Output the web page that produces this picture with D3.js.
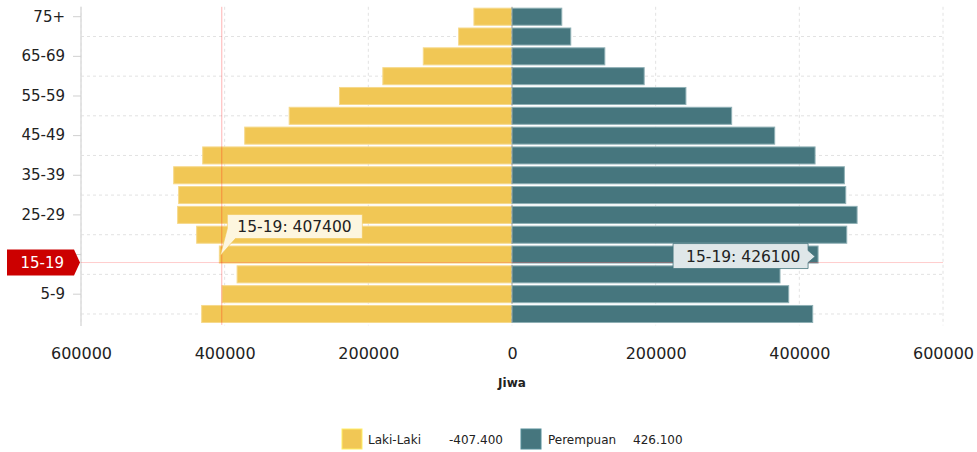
<!DOCTYPE html>
<html>
<head>
<meta charset="utf-8">
<script src="https://cdn.jsdelivr.net/npm/d3@7"></script>
<style>
  html, body { margin: 0; padding: 0; background: #fff; }
  svg { display: block; font-family: "DejaVu Sans", Verdana, sans-serif; }
</style>
</head>
<body>
<svg id="chart" width="977" height="452"></svg>
<script>
// ---- data ----
const categories = ["0-4","5-9","10-14","15-19","20-24","25-29","30-34","35-39","40-44","45-49","50-54","55-59","60-64","65-69","70-74","75+"];
const laki = [432000, 403600, 382700, 407400, 439000, 465500, 464100, 471000, 430600, 372100, 310200, 240100, 179800, 123500, 74300, 53000];
const perempuan = [418600, 385200, 373100, 426100, 466000, 480400, 464600, 462700, 421900, 365700, 305800, 242100, 184000, 129200, 81800, 69300];
const xTicks = [-600000, -400000, -200000, 0, 200000, 400000, 600000];
const seriesNames = ["Laki-Laki", "Perempuan"];
const legendValues = ["-407.400", "426.100"];
const xTitle = "Jiwa";
const hoverCategory = "15-19";
const cursorValue = -404000;

const colors = { laki: "#f1c755", perempuan: "#46767e" };

const svg = d3.select("#chart");
const W = 977, H = 452;
const plot = { left: 81, right: 943, top: 6.8, bottom: 323.9 };

const x = d3.scaleLinear().domain([-600000, 600000]).range([plot.left, plot.right]);
const y = d3.scaleBand().domain(categories.slice().reverse()).range([plot.top, plot.bottom]).paddingInner(0.14).paddingOuter(0.07);

const labeled = categories.filter((c, i) => i % 2 === 1);
const unlabeled = categories.filter((c, i) => i % 2 === 0);
const yc = c => y(c) + y.bandwidth() / 2;

// grid
const grid = svg.append("g");
grid.selectAll("line.v").data(xTicks).join("line")
  .attr("x1", d => x(d)).attr("x2", d => x(d))
  .attr("y1", plot.top).attr("y2", plot.bottom + 1.5)
  .attr("stroke", "#e2e2e2").attr("stroke-dasharray", "3,3");
grid.selectAll("line.h").data(unlabeled).join("line")
  .attr("x1", plot.left).attr("x2", plot.right)
  .attr("y1", d => yc(d)).attr("y2", d => yc(d))
  .attr("stroke", "#e2e2e2").attr("stroke-dasharray", "3,3");

// bars
const rows = categories.map((c, i) => ({ c, m: laki[i], f: perempuan[i] }));
const bars = svg.append("g");
bars.selectAll("rect.m").data(rows).join("rect")
  .attr("x", d => x(-d.m)).attr("width", d => x(0) - x(-d.m))
  .attr("y", d => y(d.c)).attr("height", y.bandwidth())
  .attr("fill", colors.laki).attr("stroke", "#f6d98c").attr("stroke-width", 1);
bars.selectAll("rect.f").data(rows).join("rect")
  .attr("x", x(0)).attr("width", d => x(d.f) - x(0))
  .attr("y", d => y(d.c)).attr("height", y.bandwidth())
  .attr("fill", colors.perempuan).attr("stroke", "#8fb0b5").attr("stroke-width", 1);

// zero line dashed on top
svg.append("line").attr("x1", x(0)).attr("x2", x(0))
  .attr("y1", plot.top).attr("y2", plot.bottom)
  .attr("stroke", "#8a8a8a").attr("stroke-opacity", 0.6).attr("stroke-dasharray", "3,3");

// y axis
const yAxis = d3.axisLeft(y).tickValues(labeled.filter(c => c !== hoverCategory)).tickSize(8).tickPadding(8);
const ya = svg.append("g").attr("transform", `translate(${plot.left},0)`).call(yAxis);
ya.select(".domain").attr("stroke", "#dcdcdc").attr("stroke-width", 1.5)
  .attr("d", `M0,${plot.top}V${plot.bottom + 2}`);
ya.selectAll(".tick line").attr("stroke", "#d0d0d0");
ya.selectAll(".tick text").attr("font-size", 15).attr("fill", "#222").attr("font-family", "DejaVu Sans, Verdana, sans-serif");
// tick for hovered category too
ya.append("line").attr("x1", -8).attr("x2", 0).attr("y1", yc(hoverCategory)).attr("y2", yc(hoverCategory)).attr("stroke", "#d0d0d0");

// x axis
const xAxis = d3.axisBottom(x).tickValues(xTicks).tickSize(0).tickPadding(0).tickFormat(d => String(Math.abs(d)));
const xa = svg.append("g").attr("transform", `translate(0,${plot.bottom})`).call(xAxis);
xa.select(".domain").remove();
xa.selectAll(".tick text").attr("font-size", 16).attr("fill", "#222").attr("dy", null).attr("y", 35)
  .attr("font-family", "DejaVu Sans, Verdana, sans-serif");

svg.append("text").attr("x", x(0)).attr("y", 387).attr("text-anchor", "middle")
  .attr("font-size", 12).attr("font-weight", "bold").attr("fill", "#222").text(xTitle);

// crosshair
const cy = yc(hoverCategory) + 8;
const cx = x(cursorValue);
svg.append("line").attr("x1", cx).attr("x2", cx).attr("y1", plot.top).attr("y2", plot.bottom + 1)
  .attr("stroke", "#ff0000").attr("stroke-opacity", 0.3);
svg.append("line").attr("x1", plot.left).attr("x2", plot.right).attr("y1", cy).attr("y2", cy)
  .attr("stroke", "#ff0000").attr("stroke-opacity", 0.2);

// crosshair axis label
const lb = svg.append("g");
lb.append("path")
  .attr("d", `M7,${cy - 13}H74L80,${cy}L74,${cy + 13}H7Z`)
  .attr("fill", "#cc0000");
lb.append("text").attr("x", 64).attr("y", cy + 5.5).attr("text-anchor", "end")
  .attr("font-size", 15).attr("fill", "#fff").text(hoverCategory);

// tooltips
const hIdx = categories.indexOf(hoverCategory);
const mTipX = x(-laki[hIdx]) + 1, mTipY = yc(hoverCategory) + 1;
const t1 = svg.append("g");
const b1 = { l: mTipX + 7, r: mTipX + 142, t: mTipY - 41, b: mTipY - 17 };
t1.append("path")
  .attr("d", `M${b1.l},${b1.t}H${b1.r}V${b1.b}H${b1.l + 8}L${mTipX},${mTipY}L${b1.l},${b1.b - 10}Z`)
  .attr("fill", "#fdf6df").attr("stroke", "#f1c755").attr("stroke-opacity", 0.6);
t1.append("text").attr("x", b1.l + 10).attr("y", b1.t + 17.5)
  .attr("font-size", 15.5).attr("fill", "#222").text(`${hoverCategory}: ${laki[hIdx]}`);

const fTipX = x(perempuan[hIdx]) - 3, fTipY = yc(hoverCategory) + 2;
const t2 = svg.append("g");
const b2 = { l: fTipX - 142, r: fTipX - 7, t: fTipY - 13, b: fTipY + 12 };
t2.append("path")
  .attr("d", `M${b2.l},${b2.t}H${b2.r}V${fTipY - 6}L${fTipX},${fTipY}L${b2.r},${fTipY + 6}V${b2.b}H${b2.l}Z`)
  .attr("fill", "#dfe7e9").attr("stroke", "#46767e").attr("stroke-opacity", 0.8);
t2.append("text").attr("x", b2.l + 13).attr("y", b2.t + 18.5)
  .attr("font-size", 15.5).attr("fill", "#222").text(`${hoverCategory}: ${perempuan[hIdx]}`);

// legend
const legend = svg.append("g");
const legendItems = [
  { name: seriesNames[0], val: legendValues[0], color: colors.laki, sx: 342, tx: 368, vx: 449 },
  { name: seriesNames[1], val: legendValues[1], color: colors.perempuan, sx: 521, tx: 548, vx: 633 }
];
legendItems.forEach(it => {
  legend.append("rect").attr("x", it.sx).attr("y", 429).attr("width", 20).attr("height", 20)
    .attr("fill", it.color).attr("stroke", d3.color(it.color).brighter(0.5)).attr("stroke-width", 1);
  legend.append("text").attr("x", it.tx).attr("y", 443.5).attr("font-size", 12).attr("fill", "#222").text(it.name);
  legend.append("text").attr("x", it.vx).attr("y", 443.5).attr("font-size", 12).attr("fill", "#222").text(it.val);
});
</script>
</body>
</html>
